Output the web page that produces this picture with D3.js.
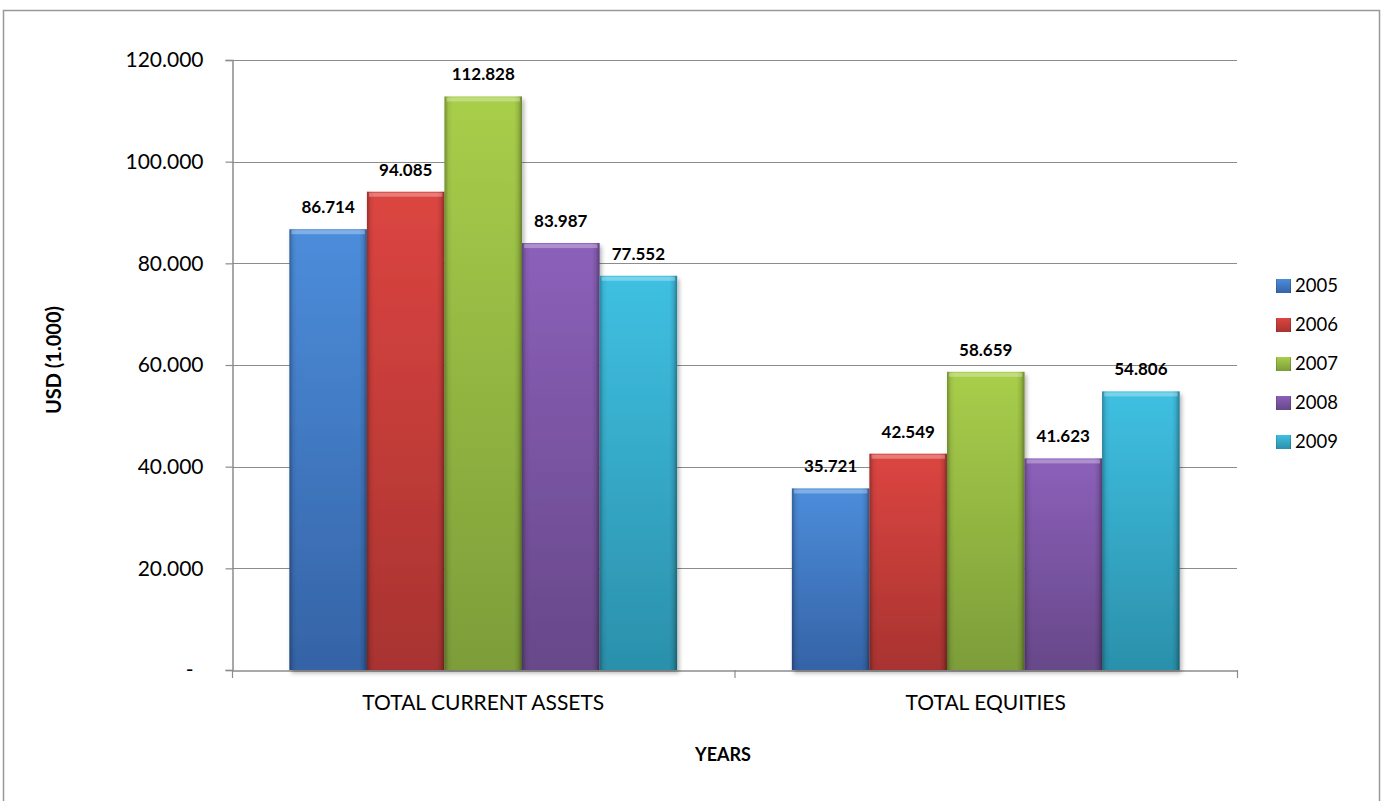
<!DOCTYPE html>
<html>
<head>
<meta charset="utf-8">
<script src="https://cdn.jsdelivr.net/npm/d3@7"></script>
<style>
    body { margin: 0; background: #fff; }
    svg { display: block; }
</style>
</head>
<body>
<div id="chart"></div>
<script>
const categories = ['TOTAL CURRENT ASSETS', 'TOTAL EQUITIES'];
const years = ['2005', '2006', '2007', '2008', '2009'];
const values2005 = [86.714, 35.721];
const values2006 = [94.085, 42.549];
const values2007 = [112.828, 58.659];
const values2008 = [83.987, 41.623];
const values2009 = [77.552, 54.806];
const yTicks = [0, 20, 40, 60, 80, 100, 120];

const series = [values2005, values2006, values2007, values2008, values2009];

const FONT = 'Lato, "Open Sans", sans-serif';

const config = {
    width: 1383,
    height: 801,
    marginTop: 60,
    marginRight: 146,
    marginBottom: 131,
    marginLeft: 232
};

// top / bottom shades of each bar
const colors = {
    '2005': ['#4c8ddb', '#3563a6'],
    '2006': ['#dc4541', '#a83330'],
    '2007': ['#a8ce4a', '#7c9d39'],
    '2008': ['#8b60ba', '#674889'],
    '2009': ['#3fc0e2', '#2b90ab']
};

const rows = categories.map((c, i) => ({
    category: c,
    values: years.map((y, j) => ({ year: y, value: series[j][i] }))
}));

const svg = d3.select('#chart')
    .append('svg')
    .attr('width', config.width)
    .attr('height', config.height)
    .attr('font-family', FONT);

const defs = svg.append('defs');

years.forEach(y => {
    const g = defs.append('linearGradient')
        .attr('id', `grad-${y}`)
        .attr('x1', 0).attr('y1', 0).attr('x2', 0).attr('y2', 1);
    g.append('stop').attr('offset', '0%').attr('stop-color', colors[y][0]);
    g.append('stop').attr('offset', '100%').attr('stop-color', colors[y][1]);
});

const side = defs.append('linearGradient')
    .attr('id', 'bevel-side')
    .attr('x1', 0).attr('y1', 0).attr('x2', 1).attr('y2', 0);
side.append('stop').attr('offset', '0%').attr('stop-color', '#000').attr('stop-opacity', 0.3);
side.append('stop').attr('offset', '5%').attr('stop-color', '#000').attr('stop-opacity', 0.06);
side.append('stop').attr('offset', '10%').attr('stop-color', '#000').attr('stop-opacity', 0);
side.append('stop').attr('offset', '90%').attr('stop-color', '#000').attr('stop-opacity', 0);
side.append('stop').attr('offset', '95%').attr('stop-color', '#000').attr('stop-opacity', 0.1);
side.append('stop').attr('offset', '100%').attr('stop-color', '#000').attr('stop-opacity', 0.35);

const shadow = defs.append('filter')
    .attr('id', 'shadow')
    .attr('x', '-10%').attr('y', '-10%').attr('width', '120%').attr('height', '120%');
shadow.append('feDropShadow')
    .attr('dx', 2).attr('dy', 3).attr('stdDeviation', 2)
    .attr('flood-color', '#000').attr('flood-opacity', 0.3);

// outer frame
svg.append('rect')
    .attr('x', 3.5)
    .attr('y', 10.5)
    .attr('width', 1376)
    .attr('height', 800)
    .attr('fill', 'none')
    .attr('stroke', '#999')
    .attr('stroke-width', 1.5);

const x0 = d3.scaleBand()
    .domain(categories)
    .range([config.marginLeft, config.width - config.marginRight])
    .padding(0);

const x1 = d3.scaleBand()
    .domain(years)
    .range([0, x0.bandwidth()])
    .paddingInner(0)
    .paddingOuter(0.74);

const y = d3.scaleLinear()
    .domain([0, 120])
    .range([config.height - config.marginBottom, config.marginTop]);

// gridlines
svg.append('g')
    .selectAll('line')
    .data(yTicks.filter(d => d > 0))
    .join('line')
    .attr('x1', config.marginLeft)
    .attr('x2', config.width - config.marginRight)
    .attr('y1', d => Math.round(y(d)) + 0.5)
    .attr('y2', d => Math.round(y(d)) + 0.5)
    .attr('stroke', '#8c8c8c')
    .attr('stroke-width', 1.2);

// y axis
const yAxis = svg.append('g')
    .attr('transform', `translate(${config.marginLeft + 0.5},0)`)
    .call(d3.axisLeft(y).tickValues(yTicks).tickSize(7).tickPadding(22)
        .tickFormat(d => d === 0 ? '-' : d3.format('.3f')(d)))
    .attr('font-family', FONT);
yAxis.select('.domain').attr('stroke', '#8c8c8c').attr('stroke-width', 1.5);
yAxis.selectAll('.tick line').attr('stroke', '#8c8c8c').attr('stroke-width', 1.2);
yAxis.selectAll('.tick text')
    .attr('fill', '#000')
    .attr('font-size', '21px')
    .attr('dx', d => d === 0 ? -10 : 0);

// x axis
const xAxis = svg.append('g')
    .attr('transform', `translate(0,${config.height - config.marginBottom + 0.5})`)
    .call(d3.axisBottom(x0).tickSize(0).tickPadding(25))
    .attr('font-family', FONT);
xAxis.select('.domain').attr('stroke', '#8c8c8c').attr('stroke-width', 1.5);
xAxis.selectAll('.tick text').attr('fill', '#000').attr('font-size', '21px');

// tick marks on the category boundaries
svg.append('g')
    .selectAll('line')
    .data([x0.range()[0], x0(categories[1]), x0.range()[1]])
    .join('line')
    .attr('x1', d => d + 0.5)
    .attr('x2', d => d + 0.5)
    .attr('y1', y(0))
    .attr('y2', y(0) + 8)
    .attr('stroke', '#8c8c8c')
    .attr('stroke-width', 1.2);

// bars
const groups = svg.append('g')
    .selectAll('g')
    .data(rows)
    .join('g')
    .attr('transform', d => `translate(${x0(d.category)},0)`);

const bar = groups.selectAll('g')
    .data(d => d.values)
    .join('g');

bar.append('rect')
    .attr('x', d => x1(d.year))
    .attr('y', d => y(d.value))
    .attr('width', x1.bandwidth())
    .attr('height', d => y(0) - y(d.value))
    .attr('fill', d => `url(#grad-${d.year})`)
    .attr('filter', 'url(#shadow)');

bar.append('rect')
    .attr('x', d => x1(d.year))
    .attr('y', d => y(d.value))
    .attr('width', x1.bandwidth())
    .attr('height', d => y(0) - y(d.value))
    .attr('fill', 'url(#bevel-side)');

// top bevel highlight
bar.append('rect')
    .attr('x', d => x1(d.year) + 2)
    .attr('y', d => y(d.value) + 1)
    .attr('width', x1.bandwidth() - 4)
    .attr('height', 4)
    .attr('fill', '#fff')
    .attr('opacity', 0.3);

bar.append('text')
    .attr('x', d => x1(d.year) + x1.bandwidth() / 2)
    .attr('y', d => y(d.value) - 16)
    .attr('text-anchor', 'middle')
    .attr('font-size', '17px')
    .attr('font-weight', 'bold')
    .attr('fill', '#000')
    .text(d => d3.format('.3f')(d.value));

// axis titles
svg.append('text')
    .attr('x', 723)
    .attr('y', 761)
    .attr('text-anchor', 'middle')
    .attr('font-size', '18px')
    .attr('font-weight', 'bold')
    .text('YEARS');

svg.append('text')
    .attr('transform', 'translate(61,360) rotate(-90)')
    .attr('text-anchor', 'middle')
    .attr('font-size', '20px')
    .attr('font-weight', 'bold')
    .text('USD (1.000)');

// legend
const legend = svg.append('g')
    .attr('transform', 'translate(1276,286)');

const item = legend.selectAll('g')
    .data(years)
    .join('g')
    .attr('transform', (d, i) => `translate(0,${i * 39})`);

item.append('rect')
    .attr('x', 0)
    .attr('y', -7)
    .attr('width', 15)
    .attr('height', 14)
    .attr('fill', d => `url(#grad-${d})`);

item.append('rect')
    .attr('x', 0)
    .attr('y', -7)
    .attr('width', 15)
    .attr('height', 14)
    .attr('fill', 'url(#bevel-side)');

item.append('text')
    .attr('x', 19)
    .attr('y', 0)
    .attr('dy', '0.35em')
    .attr('font-size', '18.5px')
    .attr('fill', '#000')
    .text(d => d);
</script>
</body>
</html>
